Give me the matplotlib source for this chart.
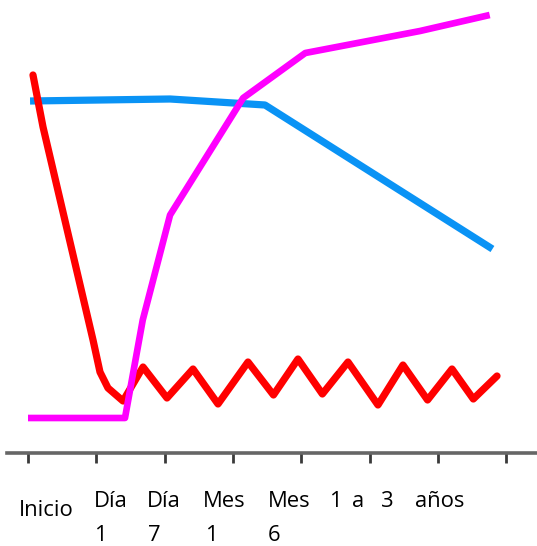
import matplotlib
matplotlib.use("Agg")
import matplotlib.pyplot as plt

# ---- data (x in tick units, y in arbitrary height above the axis) ----
tick_positions = [0, 1, 2, 3, 4, 5, 6, 7]

blue_x = [0.03, 2.08, 3.47, 6.80]
blue_y = [352, 354, 348, 204]

magenta_x = [0.0, 1.42, 1.68, 2.08, 3.15, 4.06, 5.74, 6.76]
magenta_y = [35, 35, 133, 238, 355, 400, 422, 438]

red_x = [0.073, 0.220, 0.952, 1.054, 1.171, 1.391, 1.684, 2.035, 2.416, 2.782,
         3.221, 3.594, 3.953, 4.310, 4.685, 5.124, 5.490, 5.850, 6.208, 6.520,
         6.867]
red_y = [378, 326, 113, 81, 65, 52, 86, 55, 84, 49,
         91, 58, 94, 59, 91, 48, 88, 53, 84, 54,
         77]

# labels: (text, x in tick units, baseline height)
label_text = ["Inicio", "Día", "1", "Día", "7", "Mes", "1", "Mes", "6",
              "1", "a", "3", "años"]
label_x = [-0.13, 0.97, 0.97, 1.74, 1.76, 2.56, 2.59, 3.51, 3.51,
           4.40, 4.74, 5.17, 5.67]
label_y = [-63, -54, -88, -54, -88, -54, -88, -54, -88,
           -54, -54, -54, -54]

W, H = 537, 546
fig = plt.figure(figsize=(W / 100, H / 100), dpi=100)
ax = fig.add_axes([0, 0, 1, 1])
ax.set_xlim(-28 / 68.3, (W - 28) / 68.3)
ax.set_ylim(-93, 453)

ax.plot(blue_x, blue_y, color="#0A93F5", lw=5.2, solid_capstyle="butt",
        solid_joinstyle="round", zorder=2)
ax.plot(red_x, red_y, color="#FF0000", lw=5.2, solid_capstyle="round",
        solid_joinstyle="round", zorder=3)
ax.plot(magenta_x, magenta_y, color="#FF00FF", lw=4.8, solid_capstyle="butt",
        solid_joinstyle="round", zorder=4)

for s in ["top", "left", "right"]:
    ax.spines[s].set_visible(False)
ax.spines["bottom"].set_position(("data", 0))
ax.spines["bottom"].set_bounds(-21 / 68.3, (W - 28) / 68.3)
ax.spines["bottom"].set_color("#666666")
ax.spines["bottom"].set_linewidth(2.6)
ax.set_yticks([])
ax.set_xticks(tick_positions)
ax.set_xticklabels([])
ax.tick_params(axis="x", direction="out", length=7.5, width=2.0, color="#3a3a3a")

for t, x, y in zip(label_text, label_x, label_y):
    ax.text(x, y, t, ha="left", va="baseline", fontsize=15.8,
            family=["Open Sans", "DejaVu Sans"], color="#000000")

fig.savefig("out.png", dpi=100)
